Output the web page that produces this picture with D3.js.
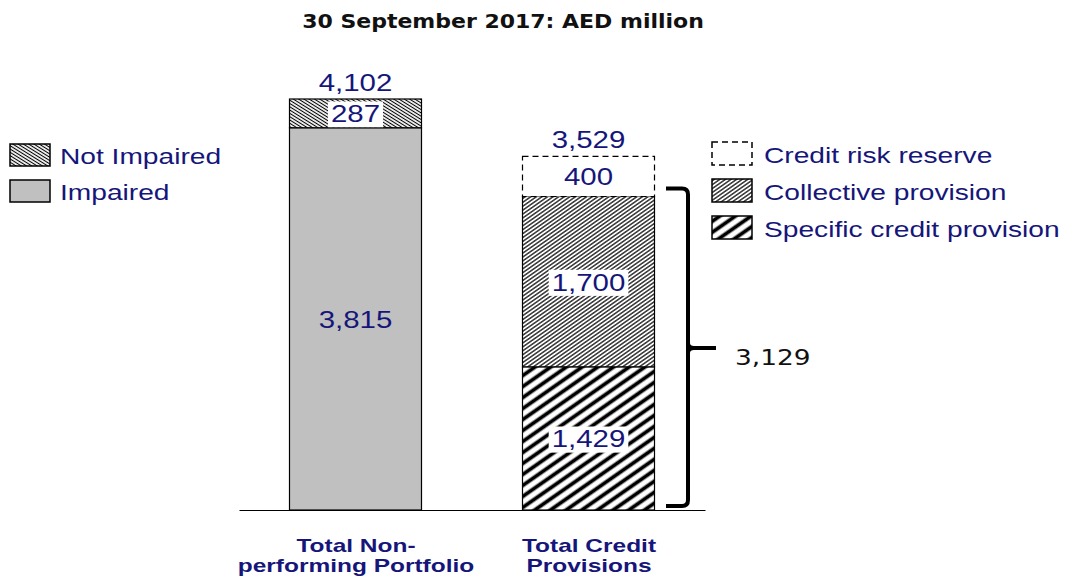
<!DOCTYPE html>
<html>
<head>
<meta charset="utf-8">
<script src="https://cdn.jsdelivr.net/npm/d3@7"></script>
<style>
  body { margin: 0; background: #fff; }
  svg { display: block; }
</style>
</head>
<body>
<div id="chart"></div>
<script>
const categories = ['Total Non-performing Portfolio', 'Total Credit Provisions']
const categoryLines = [['Total Non-', 'performing Portfolio'], ['Total Credit', 'Provisions']]
const portfolioKeys = ['Impaired', 'Not Impaired']
const portfolioValues = [3815, 287]
const provisionKeys = ['Specific credit provision', 'Collective provision', 'Credit risk reserve']
const provisionValues = [1429, 1700, 400]
const totalLabels = ['4,102', '3,529']
const bracketValue = 3129
const bracketLabel = '3,129'
const portfolioLabels = ['3,815', '287']
const provisionLabels = ['1,429', '1,700', '400']

const width = 1075
const height = 577
const navy = '#16167a'

const svg = d3.select('#chart').append('svg')
  .attr('width', width)
  .attr('height', height)

const defs = svg.append('defs')

// stretch a text horizontally around its own anchor point
const stretch = (sel, sx) => {
  const tx = +sel.attr('x') || 0
  const ty = +sel.attr('y') || 0
  sel.attr('x', null).attr('y', null)
    .attr('transform', `translate(${tx},${ty}) scale(${sx},1)`)
  return sel
}

const makeHatch = (id, size, angle, strokeWidth) => {
  const p = defs.append('pattern')
    .attr('id', id)
    .attr('patternUnits', 'userSpaceOnUse')
    .attr('width', size)
    .attr('height', size)
    .attr('patternTransform', `rotate(${angle})`)
  p.append('rect').attr('width', size).attr('height', size).attr('fill', '#fff')
  p.append('line')
    .attr('x1', size / 2).attr('y1', 0).attr('x2', size / 2).attr('y2', size)
    .attr('stroke', '#000')
    .attr('stroke-width', strokeWidth)
}
makeHatch('notImpaired', 2.8, -58, 1.1)
makeHatch('collective', 3.2, 55, 1.2)
makeHatch('specific', 9, 55, 3.8)

const fills = {
  'Impaired': '#c0c0c0',
  'Not Impaired': 'url(#notImpaired)',
  'Specific credit provision': 'url(#specific)',
  'Collective provision': 'url(#collective)',
  'Credit risk reserve': '#fff'
}

const x = d3.scalePoint().domain(categories).range([239, 705]).padding(0.5)
const y = d3.scaleLinear().domain([0, 4102]).range([510, 99])
const barWidth = 132

const labelFont = 'Liberation Sans, Arial, sans-serif'
const labelStretch = 1.28

// title
stretch(svg.append('text')
  .attr('x', 503).attr('y', 28)
  .attr('text-anchor', 'middle')
  .style('font-family', 'DejaVu Sans, Verdana, sans-serif')
  .style('font-size', '20px')
  .style('font-weight', 'bold')
  .style('fill', '#111')
  .text('30 September 2017: AED million'), 1.1)

const stackSegments = (keys, values, labels) => {
  const ends = d3.cumsum(values)
  return keys.map((k, i) => ({ key: k, y0: ends[i] - values[i], y1: ends[i], label: labels[i] }))
}

const bars = [
  { cat: categories[0], segs: stackSegments(portfolioKeys, portfolioValues, portfolioLabels) },
  { cat: categories[1], segs: stackSegments(provisionKeys, provisionValues, provisionLabels) }
]

bars.forEach((bar, bi) => {
  const cx = x(bar.cat)
  const g = svg.append('g')
  g.selectAll('rect.seg')
    .data(bar.segs)
    .enter()
    .append('rect')
    .attr('class', 'seg')
    .attr('x', cx - barWidth / 2)
    .attr('y', d => y(d.y1))
    .attr('width', barWidth)
    .attr('height', d => y(d.y0) - y(d.y1))
    .style('fill', d => fills[d.key])
    .style('stroke', '#000')
    .style('stroke-width', 1.2)
    .style('stroke-dasharray', d => d.key === 'Credit risk reserve' ? '6,4' : null)

  bar.segs.forEach(d => {
    const cy = (y(d.y0) + y(d.y1)) / 2
    const t = g.append('text')
      .attr('x', cx).attr('y', cy + 9)
      .attr('text-anchor', 'middle')
      .style('font-family', labelFont)
      .style('font-size', '23px')
      .style('fill', navy)
      .text(d.label)
    stretch(t, labelStretch)
    if (d.key !== 'Impaired' && d.key !== 'Credit risk reserve') {
      const bb = t.node().getBBox()
      const w = bb.width * labelStretch
      g.insert('rect', () => t.node())
        .attr('x', cx - w / 2 - 3).attr('y', Math.max(cy + 9 + bb.y, y(d.y1) + 1.5))
        .attr('width', w + 6)
        .attr('height', Math.min(bb.height, y(d.y0) - y(d.y1) - 3))
        .style('fill', '#fff')
    }
  })

  stretch(g.append('text')
    .attr('x', cx).attr('y', y(d3.sum(bar.segs, s => s.y1 - s.y0)) - 8)
    .attr('text-anchor', 'middle')
    .style('font-family', labelFont)
    .style('font-size', '23px')
    .style('fill', navy)
    .text(totalLabels[bi]), labelStretch)
})

// axis
const axis = svg.append('g')
  .attr('transform', `translate(0,${y(0)})`)
  .call(d3.axisBottom(x).tickSize(0).tickFormat(''))
axis.select('.domain').attr('stroke', '#000').attr('stroke-width', 1.2)

axis.selectAll('.tick').each(function (d, i) {
  const t = d3.select(this).append('text')
    .attr('text-anchor', 'middle')
    .attr('fill', navy)
    .attr('transform', 'scale(1.36,1)')
    .style('font-family', labelFont)
    .style('font-size', '18px')
    .style('font-weight', 'bold')
  categoryLines[i].forEach((line, j) => {
    t.append('tspan').attr('x', 0).attr('y', 42 + j * 20).text(line)
  })
})

// bracket
const bTop = y(bracketValue) - 8
const bBot = y(0) - 4
const bx = 688
const bMid = 348
const bp = d3.path()
bp.moveTo(666, bTop)
bp.lineTo(bx - 6, bTop)
bp.quadraticCurveTo(bx, bTop, bx, bTop + 6)
bp.lineTo(bx, bBot - 6)
bp.quadraticCurveTo(bx, bBot, bx - 6, bBot)
bp.lineTo(666, bBot)
bp.moveTo(bx, bMid - 5)
bp.quadraticCurveTo(bx, bMid, bx + 6, bMid)
bp.lineTo(716, bMid)
bp.moveTo(bx, bMid + 5)
bp.quadraticCurveTo(bx, bMid, bx + 6, bMid)
svg.append('path')
  .attr('d', bp.toString())
  .attr('fill', 'none')
  .attr('stroke', '#000')
  .attr('stroke-width', 4)

stretch(svg.append('text')
  .attr('x', 735).attr('y', 365)
  .style('font-family', 'DejaVu Sans, Verdana, sans-serif')
  .style('font-size', '22px')
  .style('fill', '#111')
  .text(bracketLabel), 1.2)

// legends
const legendLeft = svg.append('g')
legendLeft.selectAll('g')
  .data(['Not Impaired', 'Impaired'])
  .enter()
  .append('g')
  .attr('transform', (d, i) => `translate(10,${144 + i * 36})`)
  .each(function (d) {
    const g = d3.select(this)
    g.append('rect')
      .attr('width', 40).attr('height', 22)
      .style('fill', fills[d])
      .style('stroke', '#000').style('stroke-width', 1.5)
    stretch(g.append('text')
      .attr('x', 50).attr('y', 20)
      .style('font-family', labelFont)
      .style('font-size', '22px')
      .style('fill', navy)
      .text(d), labelStretch)
  })

const legendRight = svg.append('g')
legendRight.selectAll('g')
  .data(['Credit risk reserve', 'Collective provision', 'Specific credit provision'])
  .enter()
  .append('g')
  .attr('transform', (d, i) => `translate(712,${142 + i * 37})`)
  .each(function (d) {
    const g = d3.select(this)
    g.append('rect')
      .attr('width', 40).attr('height', 23)
      .style('fill', fills[d])
      .style('stroke', '#000').style('stroke-width', 1.5)
      .style('stroke-dasharray', d === 'Credit risk reserve' ? '6,4' : null)
    stretch(g.append('text')
      .attr('x', 52).attr('y', 21)
      .style('font-family', labelFont)
      .style('font-size', '22px')
      .style('fill', navy)
      .text(d), labelStretch)
  })
</script>
</body>
</html>
